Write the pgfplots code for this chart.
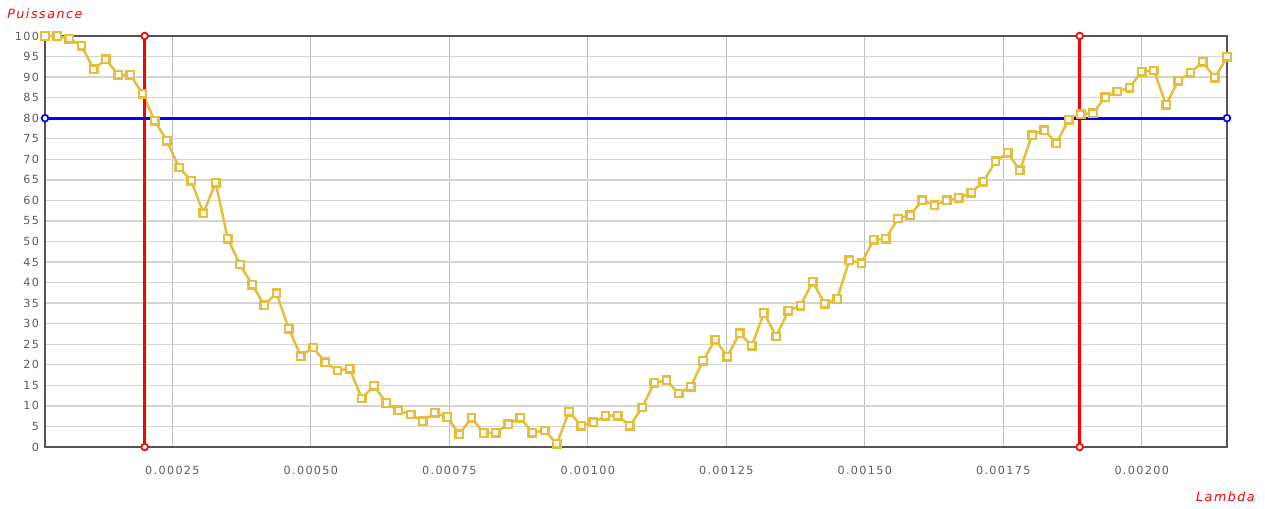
\documentclass[border=0pt]{standalone}
\usepackage{fontspec}
\setmainfont{DejaVu Sans}[LetterSpace=12]
\usepackage{pgfplots}
\pgfplotsset{compat=1.18}
\usepackage{pgfplotstable}

\definecolor{gold}{RGB}{230,190,62}
\definecolor{frame}{RGB}{85,85,85}
\definecolor{ticktxt}{RGB}{90,90,102}
\definecolor{gridh}{RGB}{212,212,212}

% Puissance en fonction de Lambda
\pgfplotstableread{
x y
0.000020 100
0.000042 100
0.000064 99.3
0.000086 97.6
0.000108 91.9
0.000130 94.3
0.000152 90.6
0.000174 90.6
0.000196 85.9
0.000218 79.4
0.000240 74.5
0.000262 68.0
0.000284 64.8
0.000306 56.9
0.000328 64.3
0.000350 50.7
0.000372 44.4
0.000394 39.5
0.000416 34.5
0.000438 37.4
0.000460 28.8
0.000482 22.1
0.000504 24.2
0.000526 20.6
0.000548 18.6
0.000570 19.0
0.000592 11.8
0.000614 14.9
0.000636 10.7
0.000658 8.9
0.000680 7.9
0.000702 6.3
0.000724 8.3
0.000746 7.3
0.000768 3.1
0.000790 7.1
0.000812 3.4
0.000834 3.5
0.000856 5.5
0.000878 7.1
0.000900 3.5
0.000922 4.0
0.000944 0.8
0.000966 8.6
0.000988 5.2
0.001010 6.0
0.001032 7.6
0.001054 7.6
0.001076 5.2
0.001098 9.6
0.001120 15.6
0.001142 16.2
0.001164 13.0
0.001186 14.7
0.001208 21.0
0.001230 26.1
0.001252 22.0
0.001274 27.7
0.001296 24.6
0.001318 32.6
0.001340 26.9
0.001362 33.1
0.001384 34.4
0.001406 40.2
0.001428 34.8
0.001450 36.0
0.001472 45.4
0.001494 44.7
0.001516 50.4
0.001538 50.7
0.001560 55.6
0.001582 56.4
0.001604 60.0
0.001626 58.8
0.001648 60.0
0.001670 60.6
0.001692 61.9
0.001714 64.5
0.001736 69.5
0.001758 71.6
0.001780 67.3
0.001802 75.9
0.001824 77.1
0.001846 73.9
0.001868 79.6
0.001890 81.0
0.001912 81.2
0.001934 85.1
0.001956 86.5
0.001978 87.4
0.002000 91.3
0.002022 91.6
0.002044 83.3
0.002066 89.1
0.002088 91.1
0.002110 93.7
0.002132 89.8
0.002154 94.9
}\puissance

\begin{document}
\begin{tikzpicture}
\path[use as bounding box] (-33.75pt,-46.5pt) rectangle (915pt,335.25pt);
\begin{axis}[
    scale only axis,
    width=886.5pt,
    height=308.25pt,
    xmin=0.00002, xmax=0.002154,
    ymin=0, ymax=100,
    clip=false,
    xtick={0.00025,0.0005,0.00075,0.001,0.00125,0.0015,0.00175,0.002},
    xticklabels={0.00025,0.00050,0.00075,0.00100,0.00125,0.00150,0.00175,0.00200},
    ytick={0,5,...,100},
    /pgf/number format/assume math mode=true,
    major tick length=0pt,
    tick label style={font=\fontsize{8.4}{10}\selectfont, text=ticktxt},
    xticklabel style={yshift=-10.5pt},
    yticklabel style={xshift=-1pt},
    scaled x ticks=false,
    grid=major,
    x grid style={line width=0.8pt, color=black!25},
    y grid style={line width=1pt, color=gridh},
    axis line style={line width=2.2pt, color=frame},
]
\addplot[color=gold, line width=1.9pt, mark=square*,
    mark options={fill=white, draw=gold, line width=1.8pt, rounded corners=1.8pt},
    mark size=2.8pt] table[x=x, y=y] {\puissance};
\addplot[red, line width=2.2pt, mark=*, mark options={fill=white, line width=1.3pt}, mark size=2.5pt]
    coordinates {(0.0002,0) (0.0002,100)};
\addplot[red, line width=2.2pt, mark=*, mark options={fill=white, line width=1.3pt}, mark size=2.5pt]
    coordinates {(0.001888,0) (0.001888,100)};
\addplot[blue, line width=2.2pt, mark=*, mark options={fill=white, line width=1.3pt}, mark size=2.5pt]
    coordinates {(0.00002,80) (0.002154,80)};
\node[anchor=west, text=red, font=\fontsize{9.5}{11}\itshape, inner sep=0pt]
    at (rel axis cs:0,1) [xshift=-28.5pt, yshift=17pt] {Puissance};
\node[anchor=east, text=red, font=\fontsize{9.5}{11}\itshape, inner sep=0pt]
    at (rel axis cs:1,0) [xshift=21pt, yshift=-37.5pt] {Lambda};
\end{axis}
\end{tikzpicture}
\end{document}
